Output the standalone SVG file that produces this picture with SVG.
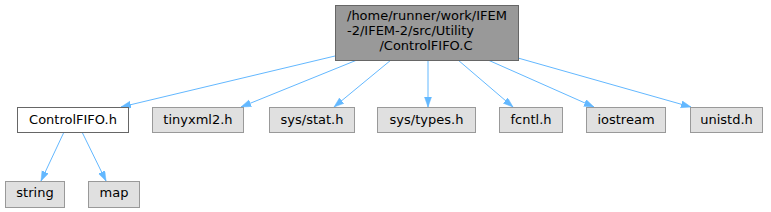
<svg xmlns="http://www.w3.org/2000/svg" width="771" height="212" viewBox="0 0 771 212">
<style>
text{font-family:"DejaVu Sans",sans-serif;font-size:13px;fill:#000}
.c{text-anchor:middle}
.root{fill:#999999;stroke:#666666}
.main{fill:#ffffff;stroke:#666666}
.ext{fill:#e0e0e0;stroke:#999999}
.e{fill:none;stroke:#63b8ff;stroke-width:1;marker-end:url(#ah)}
</style>
<defs>
<marker id="ah" markerUnits="userSpaceOnUse" markerWidth="11" markerHeight="8" refX="10" refY="3.5" orient="auto">
<path d="M0,0 L10,3.5 L0,7 Z" fill="#63b8ff" stroke="#63b8ff" stroke-width="0.5"/>
</marker>
</defs>
<g id="edges">
<path class="e" d="M335,56 L121,107"/>
<path class="e" d="M357,60 L241,107"/>
<path class="e" d="M391,60 L334,107"/>
<path class="e" d="M428,60 L428,107"/>
<path class="e" d="M458,60 L513,107"/>
<path class="e" d="M488,60 L594,107"/>
<path class="e" d="M518,58 L691,107"/>
<path class="e" d="M64,132 L41,181"/>
<path class="e" d="M82,132 L106,181"/>
</g>
<g id="node_root">
<rect class="root" x="335.5" y="5.5" width="183" height="55"/>
<text x="347" y="19.5">/home/runner/work/IFEM</text>
<text x="347" y="34.5">-2/IFEM-2/src/Utility</text>
<text class="c" x="426" y="49.5">/ControlFIFO.C</text>
</g>
<g id="node_controlfifo_h">
<rect class="main" x="17.5" y="107.5" width="111" height="25"/>
<text class="c" x="73" y="124">ControlFIFO.h</text>
</g>
<g id="node_tinyxml2">
<rect class="ext" x="152.5" y="107.5" width="91" height="25"/>
<text class="c" x="198" y="124">tinyxml2.h</text>
</g>
<g id="node_sys_stat">
<rect class="ext" x="269.5" y="107.5" width="85" height="25"/>
<text class="c" x="312" y="124">sys/stat.h</text>
</g>
<g id="node_sys_types">
<rect class="ext" x="377.5" y="107.5" width="98" height="25"/>
<text class="c" x="426.5" y="124">sys/types.h</text>
</g>
<g id="node_fcntl">
<rect class="ext" x="499.5" y="107.5" width="63" height="25"/>
<text class="c" x="531" y="124">fcntl.h</text>
</g>
<g id="node_iostream">
<rect class="ext" x="586.5" y="107.5" width="79" height="25"/>
<text class="c" x="626" y="124">iostream</text>
</g>
<g id="node_unistd">
<rect class="ext" x="690.5" y="107.5" width="72" height="25"/>
<text class="c" x="726.5" y="124">unistd.h</text>
</g>
<g id="node_string">
<rect class="ext" x="5.5" y="181.5" width="59" height="26"/>
<text class="c" x="35" y="197">string</text>
</g>
<g id="node_map">
<rect class="ext" x="88.5" y="181.5" width="51" height="26"/>
<text class="c" x="114" y="197">map</text>
</g>
</svg>
